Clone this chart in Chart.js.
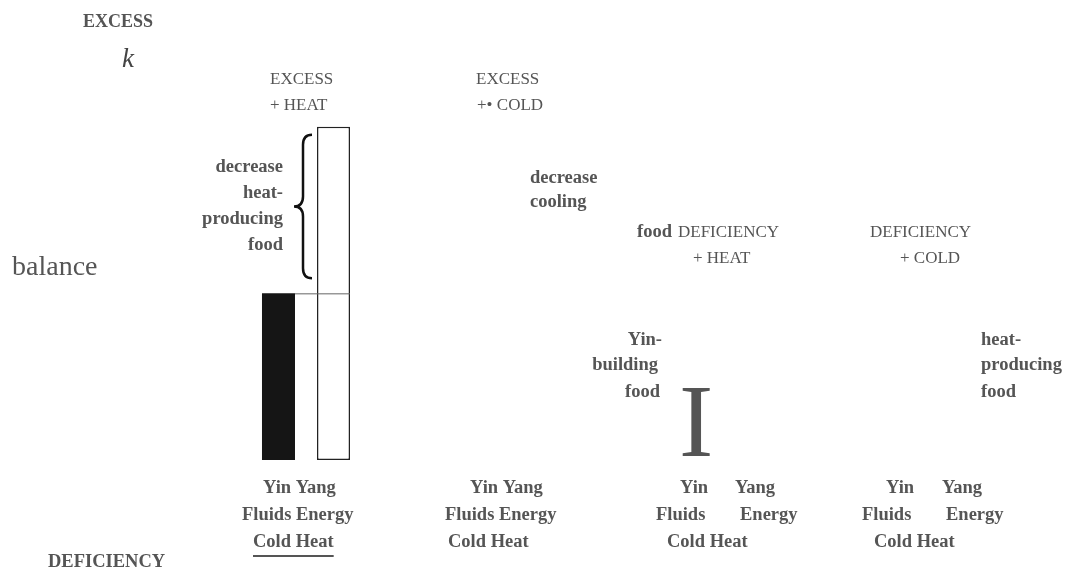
<!DOCTYPE html>
<html>
<head>
<meta charset="utf-8">
<script src="https://cdn.jsdelivr.net/npm/chart.js@4"></script>
<style>
  body { margin: 0; background: #fff; }
  #wrap { width: 1065px; height: 570px; position: relative; }
</style>
</head>
<body>
<div id="wrap"><canvas id="yinyang"></canvas></div>
<script>
// the four states, Yin / Yang levels (1 = balance)
const categories = ['Excess + Heat', 'Excess + Cold', 'Deficiency + Heat', 'Deficiency + Cold'];
const yinValues = [1, null, null, null];
const yangValues = [2, null, null, null];
const balanceLevel = 1;
const yMax = 2.52;
const rowWords = [['Yin', 'Yang'], ['Fluids', 'Energy'], ['Cold', 'Heat']];

const serif = '"Liberation Serif", "Times New Roman", serif';
const grey = '#555';

// word offsets from the category centre, one entry = words joined
const groupLayout = [
  { rows: [[-43], [-64], [-53]], underline: true },
  { rows: [[-46], [-71], [-68]] },
  { rows: [[-46, 9], [-70, 14], [-59]] },
  { rows: [[-50, 6], [-74, 10], [-62]] }
];
const rowDrop = [33, 60, 87];

const notes = [
  { t: 'EXCESS', x: 83, y: 27, f: 'bold 18px' },
  { t: 'k', x: 122, y: 67, f: 'italic 27px', c: '#444' },
  { t: 'balance', x: 12, y: 275, f: '28px' },
  { t: 'DEFICIENCY', x: 48, y: 567, f: 'bold 18.5px' },
  { t: 'EXCESS', x: 270, y: 84, f: '17px' },
  { t: '+ HEAT', x: 270, y: 110, f: '17px' },
  { t: 'EXCESS', x: 476, y: 84, f: '17px' },
  { t: '+\u2022 COLD', x: 477, y: 110, f: '17px' },
  { t: 'decrease', x: 283, y: 172, f: 'bold 18.5px', a: 'right' },
  { t: 'heat-', x: 283, y: 198, f: 'bold 18.5px', a: 'right' },
  { t: 'producing', x: 283, y: 224, f: 'bold 18.5px', a: 'right' },
  { t: 'food', x: 283, y: 250, f: 'bold 18.5px', a: 'right' },
  { t: 'decrease', x: 530, y: 183, f: 'bold 18.5px' },
  { t: 'cooling', x: 530, y: 207, f: 'bold 18.5px' },
  { t: 'food', x: 637, y: 237, f: 'bold 18.5px' },
  { t: 'DEFICIENCY', x: 678, y: 237, f: '17px' },
  { t: '+ HEAT', x: 693, y: 263, f: '17px' },
  { t: 'DEFICIENCY', x: 870, y: 237, f: '17px' },
  { t: '+ COLD', x: 900, y: 263, f: '17px' },
  { t: 'Yin-', x: 662, y: 345, f: 'bold 18.5px', a: 'right' },
  { t: 'building', x: 658, y: 370, f: 'bold 18.5px', a: 'right' },
  { t: 'food', x: 660, y: 397, f: 'bold 18.5px', a: 'right' },
  { t: 'heat-', x: 981, y: 345, f: 'bold 18.5px' },
  { t: 'producing', x: 981, y: 370, f: 'bold 18.5px' },
  { t: 'food', x: 981, y: 397, f: 'bold 18.5px' },
  { t: 'I', x: 679, y: 456, f: '103px' }
];

const diagramPlugin = {
  id: 'diagram',
  afterDatasetsDraw(chart) {
    const ctx = chart.ctx;
    const xs = chart.scales.x, ys = chart.scales.y;
    const yin = chart.getDatasetMeta(0).data[0];
    const yang = chart.getDatasetMeta(1).data[0];
    ctx.save();

    // balance line across the first pair
    const by = ys.getPixelForValue(balanceLevel);
    ctx.strokeStyle = '#666';
    ctx.lineWidth = 1;
    ctx.beginPath();
    ctx.moveTo(yin.x + yin.width / 2, by + 0.5);
    ctx.lineTo(yang.x + yang.width / 2, by + 0.5);
    ctx.stroke();

    // brace beside the excess part of the yang bar
    const top = ys.getPixelForValue(yangValues[0]) + 8;
    const bot = by - 15;
    const mid = (top + bot) / 2;
    const bx = yang.x - yang.width / 2 - 14;
    ctx.strokeStyle = '#111';
    ctx.lineWidth = 2.5;
    ctx.beginPath();
    ctx.moveTo(bx + 9, top);
    ctx.quadraticCurveTo(bx, top, bx, top + 10);
    ctx.lineTo(bx, mid - 10);
    ctx.quadraticCurveTo(bx, mid, bx - 9, mid);
    ctx.quadraticCurveTo(bx, mid, bx, mid + 10);
    ctx.lineTo(bx, bot - 10);
    ctx.quadraticCurveTo(bx, bot, bx + 9, bot);
    ctx.stroke();

    ctx.textBaseline = 'alphabetic';
    notes.forEach(n => {
      ctx.font = n.f + ' ' + serif;
      ctx.fillStyle = n.c || grey;
      ctx.textAlign = n.a || 'left';
      ctx.fillText(n.t, n.x, n.y);
    });

    // Yin / Yang captions under each state
    ctx.textAlign = 'left';
    ctx.font = 'bold 18.5px ' + serif;
    ctx.fillStyle = grey;
    groupLayout.forEach((g, i) => {
      const cx = xs.getPixelForValue(i);
      g.rows.forEach((offs, r) => {
        const y = ys.bottom + rowDrop[r];
        if (offs.length === 1) {
          const txt = rowWords[r].join(' ');
          ctx.fillText(txt, cx + offs[0], y);
          if (g.underline && r === 2) {
            const w = ctx.measureText(txt).width;
            ctx.fillRect(cx + offs[0], y + 8, w, 2);
          }
        } else {
          ctx.fillText(rowWords[r][0], cx + offs[0], y);
          ctx.fillText(rowWords[r][1], cx + offs[1], y);
        }
      });
    });
    ctx.restore();
  }
};

new Chart(document.getElementById('yinyang').getContext('2d'), {
  type: 'bar',
  data: {
    labels: categories,
    datasets: [
      { label: 'Yin', data: yinValues, backgroundColor: '#151515', borderWidth: 0 },
      { label: 'Yang', data: yangValues, backgroundColor: '#ffffff', borderColor: '#222', borderWidth: 1.5, borderSkipped: false }
    ]
  },
  options: {
    responsive: true,
    maintainAspectRatio: false,
    animation: false,
    categoryPercentage: 0.524,
    barPercentage: 0.6,
    layout: { padding: { left: 201, right: 24, top: 40, bottom: 110 } },
    plugins: { legend: { display: false }, tooltip: { enabled: false } },
    scales: {
      x: { display: false },
      y: { display: false, min: 0, max: yMax }
    }
  },
  plugins: [diagramPlugin]
});
</script>
</body>
</html>
